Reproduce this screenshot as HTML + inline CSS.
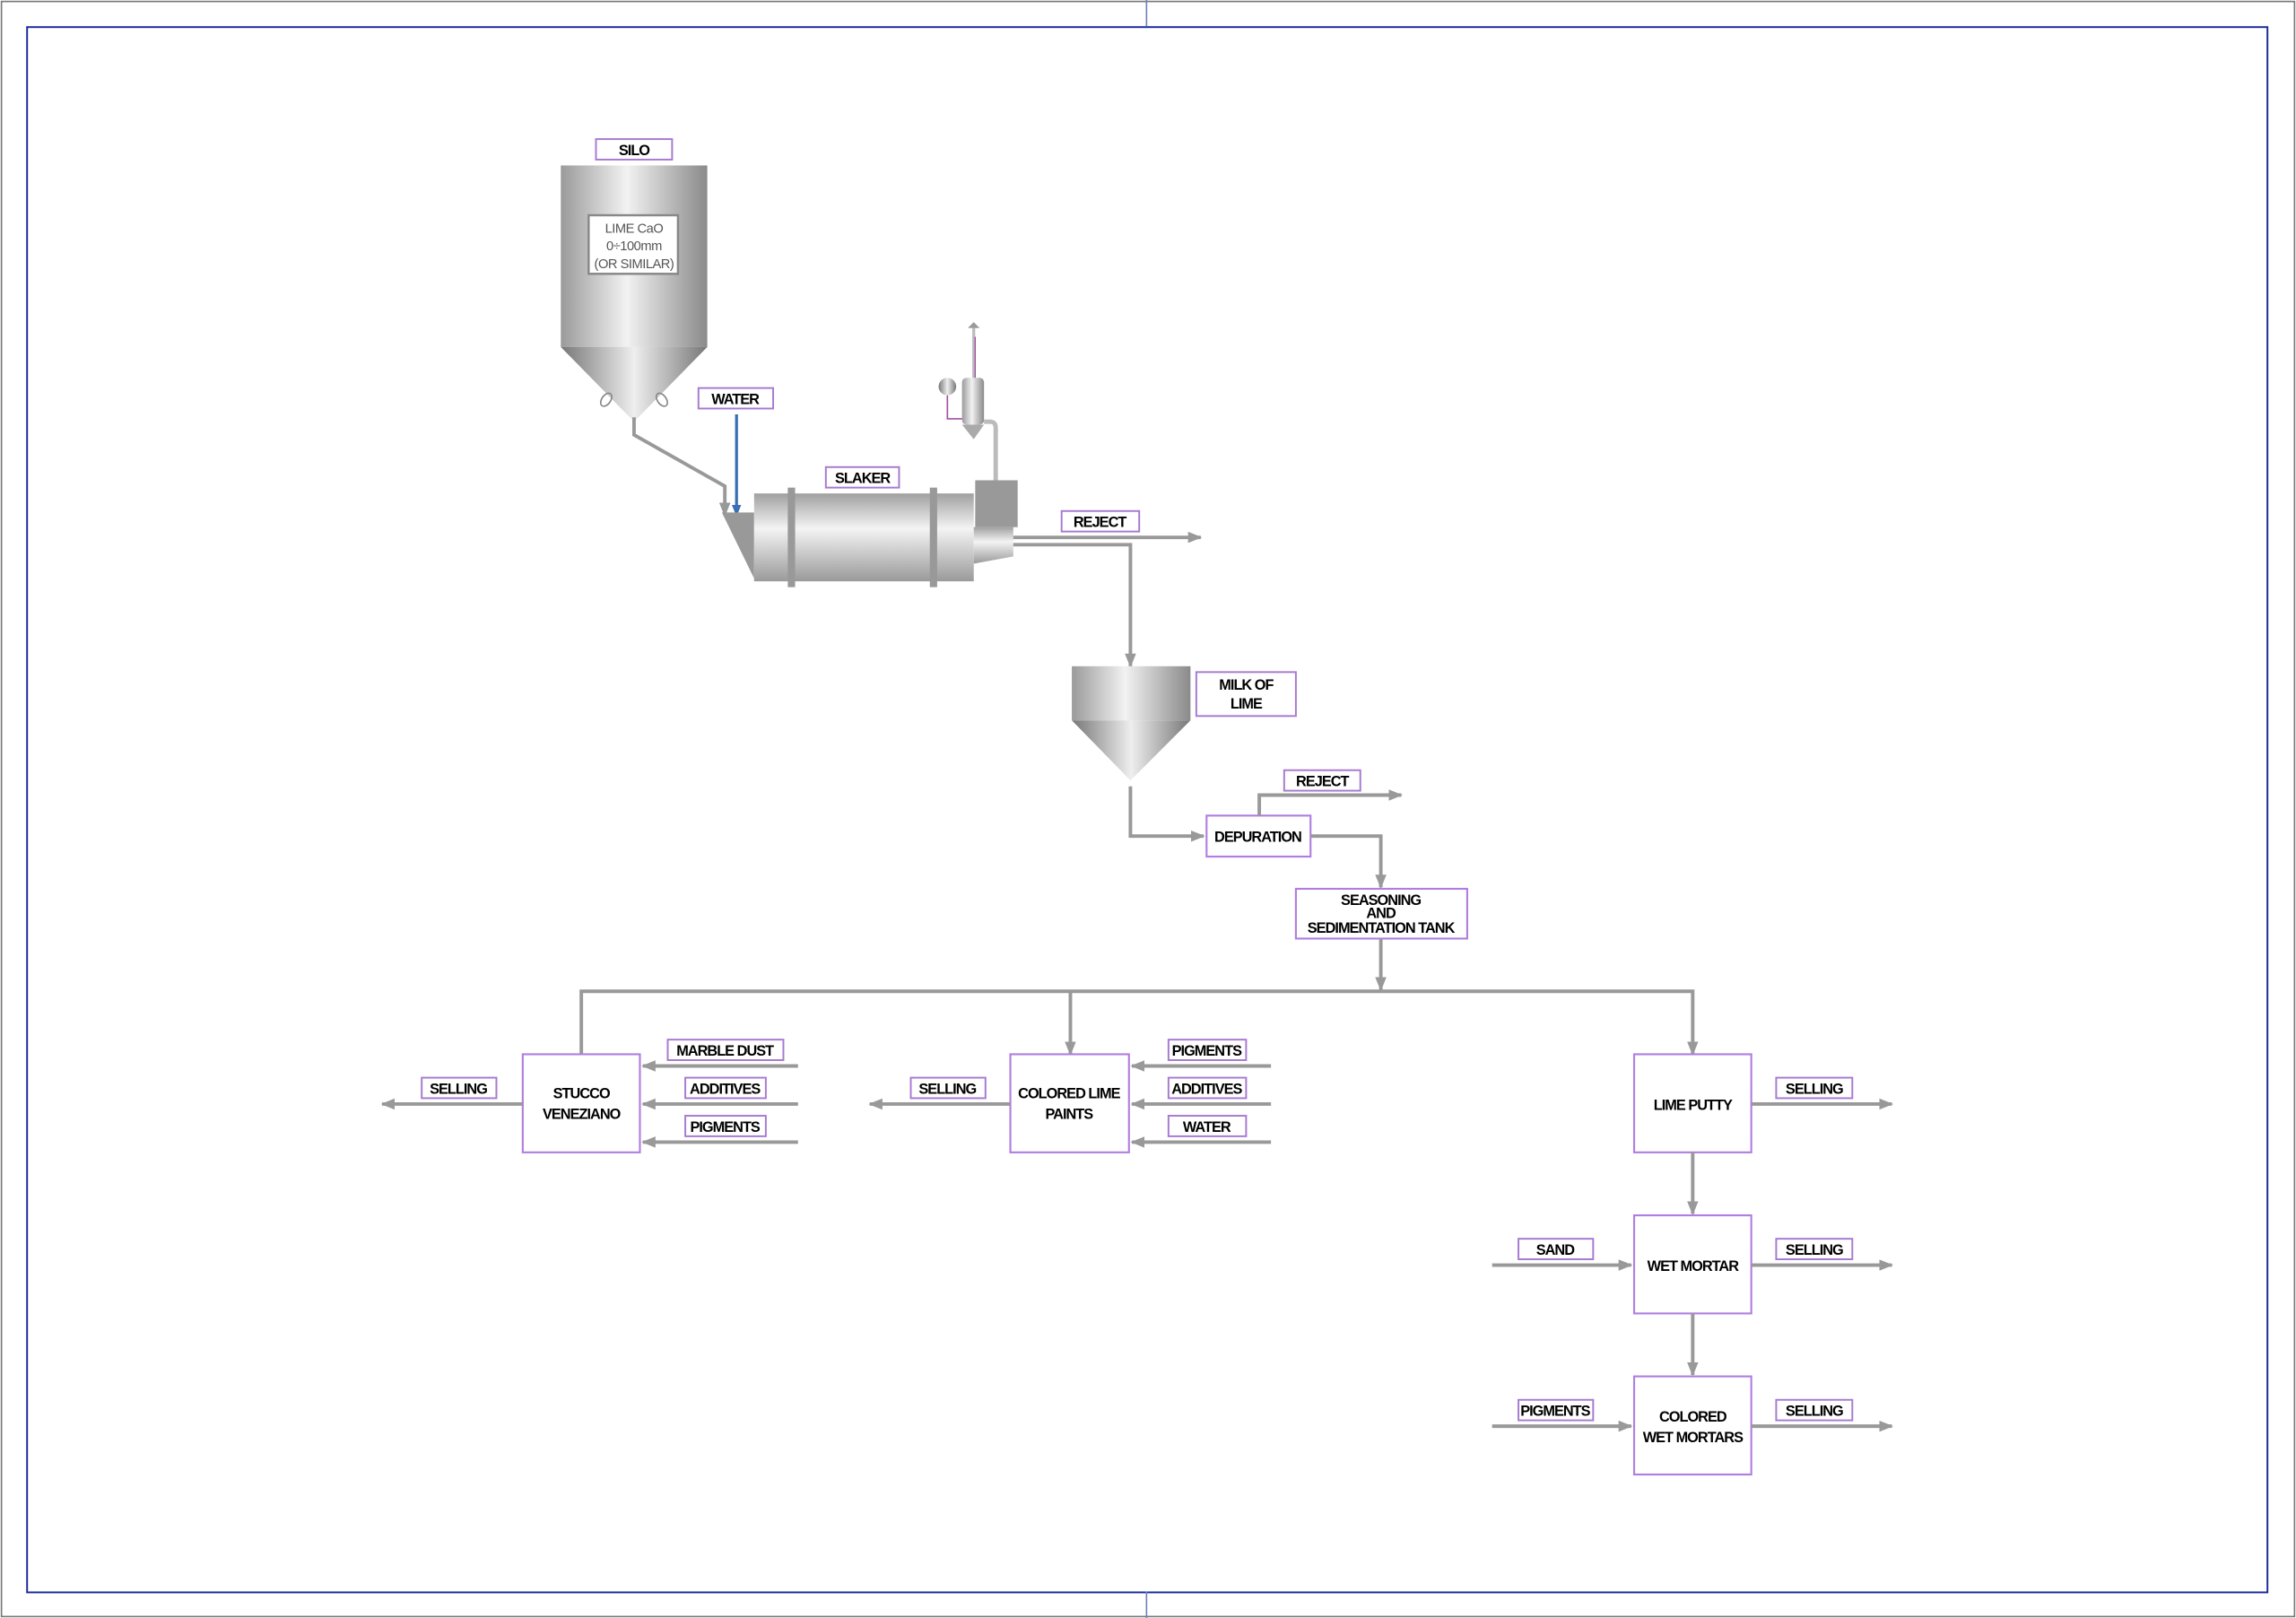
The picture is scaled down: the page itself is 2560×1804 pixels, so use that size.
<!DOCTYPE html>
<html><head><meta charset="utf-8"><style>
html,body{margin:0;padding:0;background:#fff}
svg{display:block}
text{font-family:"Liberation Sans",Arial,sans-serif;font-weight:bold;font-size:10px;letter-spacing:-0.6px;fill:#000;text-anchor:middle}
.l{fill:#fff;stroke:#a77ad0;stroke-width:1.2}
.b{fill:#fff;stroke:#b07ee0;stroke-width:1.3}
.p{fill:none;stroke:#999;stroke-width:2.4}
</style></head><body>
<svg width="2560" height="1804" viewBox="0 0 1568 1105" preserveAspectRatio="none" xmlns="http://www.w3.org/2000/svg">
<defs>
<marker id="a" viewBox="0 0 10 10" refX="9" refY="5" markerWidth="4" markerHeight="4" orient="auto"><path d="M0,1 L10,5 L0,9 Z" fill="#999"/></marker>
<marker id="ab" viewBox="0 0 10 10" refX="9" refY="5" markerWidth="4" markerHeight="4" orient="auto"><path d="M0,1 L10,5 L0,9 Z" fill="#3a6fb5"/></marker>
<linearGradient id="g" x1="0" x2="1"><stop offset="0" stop-color="#9a9a9a"/><stop offset="0.45" stop-color="#f2f2f2"/><stop offset="1" stop-color="#8a8a8a"/></linearGradient>
<linearGradient id="gv" x1="0" y1="0" x2="0" y2="1"><stop offset="0" stop-color="#a0a0a0"/><stop offset="0.4" stop-color="#f4f4f4"/><stop offset="1" stop-color="#9a9a9a"/></linearGradient>
<linearGradient id="gc" x1="0" x2="1"><stop offset="0" stop-color="#777"/><stop offset="0.5" stop-color="#eee"/><stop offset="1" stop-color="#777"/></linearGradient>
</defs>
<!-- frames -->
<rect x="1" y="1" width="1566" height="1103" fill="none" stroke="#777" stroke-width="1"/>
<rect x="18.5" y="18.5" width="1530" height="1069" fill="none" stroke="#1a2a9a" stroke-width="1.2"/>
<line x1="783" y1="0" x2="783" y2="18" stroke="#7080c0" stroke-width="1"/>
<line x1="783" y1="1087" x2="783" y2="1105" stroke="#7080c0" stroke-width="1"/>

<!-- silo -->
<rect class="l" x="407" y="95" width="52" height="14"/><text x="433" y="106">SILO</text>
<rect x="383" y="113" width="100" height="124" fill="url(#g)"/>
<path d="M383,237 L483,237 L433,288 Z" fill="url(#gc)"/>
<rect x="402" y="147" width="61" height="40" fill="#fff" stroke="#888" stroke-width="1.5"/>
<text x="433" y="159" style="font-weight:normal;font-size:9px;fill:#555;letter-spacing:-0.3px">LIME CaO</text>
<text x="433" y="171" style="font-weight:normal;font-size:9px;fill:#555;letter-spacing:-0.3px">0÷100mm</text>
<text x="433" y="183" style="font-weight:normal;font-size:9px;fill:#555;letter-spacing:-0.3px">(OR SIMILAR)</text>
<ellipse cx="414" cy="273" rx="3" ry="5" transform="rotate(35 414 273)" fill="none" stroke="#888"/>
<ellipse cx="452" cy="273" rx="3" ry="5" transform="rotate(-35 452 273)" fill="none" stroke="#888"/>
<path class="p" d="M433,285 L433,297 L495,332 L495,352" stroke-width="1.5" marker-end="url(#a)"/>
<rect class="l" x="477" y="265" width="51" height="14"/><text x="502" y="276">WATER</text>
<line x1="503" y1="283" x2="503" y2="352" stroke="#3a6fb5" stroke-width="2" marker-end="url(#ab)"/>

<!-- slaker -->
<path d="M493,350 L515,350 L515,395 Z" fill="#999"/>
<rect x="515" y="337" width="150" height="60" fill="url(#gv)"/>
<rect x="538" y="333" width="5" height="68" fill="#999"/>
<rect x="635" y="333" width="5" height="68" fill="#999"/>
<rect class="l" x="564" y="319" width="50" height="14"/><text x="589" y="330">SLAKER</text>
<path d="M665,360 L692,360 L692,380 L665,385 Z" fill="url(#gv)"/>
<rect x="666" y="328" width="29" height="32" fill="#999"/>
<path d="M680,328 L680,292 Q680,288 676,288 L672,288" fill="none" stroke="#bbb" stroke-width="3"/>
<rect x="657" y="258" width="15" height="32" rx="3" fill="url(#g)"/>
<path d="M657,290 L672,290 L665,300 Z" fill="#aaa"/>
<circle cx="647" cy="264" r="6" fill="url(#gc)"/>
<path d="M647,270 L647,286 L657,286" fill="none" stroke="#a050a0" stroke-width="1"/>
<line x1="665" y1="258" x2="665" y2="224" stroke="#bbb" stroke-width="2"/>
<line x1="666" y1="258" x2="666" y2="230" stroke="#a050a0" stroke-width="0.8"/>
<path d="M661,224 L665,220 L669,224 Z" fill="#999"/>
<rect class="l" x="725" y="349" width="53" height="14"/><text x="751" y="360">REJECT</text>
<line class="p" x1="692" y1="367" x2="820" y2="367" marker-end="url(#a)"/>
<path class="p" d="M692,372 L772,372 L772,455" marker-end="url(#a)"/>

<!-- milk of lime -->
<rect x="732" y="455" width="81" height="37" fill="url(#g)"/>
<path d="M732,492 L813,492 L772,533 Z" fill="url(#gc)"/>
<rect class="l" x="817" y="459" width="68" height="30"/><text x="851" y="471">MILK OF</text><text x="851" y="484">LIME</text>
<path class="p" d="M772,537 L772,571 L822,571" marker-end="url(#a)"/>
<rect class="b" x="824" y="557" width="71" height="28"/><text x="859" y="575">DEPURATION</text>
<path class="p" d="M860,557 L860,543 L957,543" marker-end="url(#a)"/>
<rect class="l" x="877" y="526" width="52" height="14"/><text x="903" y="537">REJECT</text>
<path class="p" d="M895,571 L943,571 L943,606" marker-end="url(#a)"/>
<rect class="b" x="885" y="607" width="117" height="34"/>
<text x="943" y="618">SEASONING</text><text x="943" y="627">AND</text><text x="943" y="637">SEDIMENTATION TANK</text>
<line class="p" x1="943" y1="641" x2="943" y2="676" marker-end="url(#a)"/>
<path class="p" d="M397,720 L397,677 L1156,677 L1156,720" marker-end="url(#a)"/>
<line class="p" x1="731" y1="677" x2="731" y2="720" marker-end="url(#a)"/>

<!-- stucco -->
<rect class="b" x="357" y="720" width="80" height="67"/><text x="397" y="750">STUCCO</text><text x="397" y="764">VENEZIANO</text>
<rect class="l" x="456" y="710" width="79" height="14"/><text x="495" y="721">MARBLE DUST</text>
<rect class="l" x="468" y="736" width="55" height="14"/><text x="495" y="747">ADDITIVES</text>
<rect class="l" x="468" y="762" width="55" height="14"/><text x="495" y="773">PIGMENTS</text>
<line class="p" x1="545" y1="728" x2="439" y2="728" marker-end="url(#a)"/>
<line class="p" x1="545" y1="754" x2="439" y2="754" marker-end="url(#a)"/>
<line class="p" x1="545" y1="780" x2="439" y2="780" marker-end="url(#a)"/>
<line class="p" x1="357" y1="754" x2="261" y2="754" marker-end="url(#a)"/>
<rect class="l" x="288" y="736" width="51" height="14"/><text x="313" y="747">SELLING</text>

<!-- paints -->
<rect class="b" x="690" y="720" width="81" height="67"/><text x="730" y="750">COLORED LIME</text><text x="730" y="764">PAINTS</text>
<rect class="l" x="798" y="710" width="53" height="14"/><text x="824" y="721">PIGMENTS</text>
<rect class="l" x="798" y="736" width="53" height="14"/><text x="824" y="747">ADDITIVES</text>
<rect class="l" x="798" y="762" width="53" height="14"/><text x="824" y="773">WATER</text>
<line class="p" x1="868" y1="728" x2="773" y2="728" marker-end="url(#a)"/>
<line class="p" x1="868" y1="754" x2="773" y2="754" marker-end="url(#a)"/>
<line class="p" x1="868" y1="780" x2="773" y2="780" marker-end="url(#a)"/>
<line class="p" x1="690" y1="754" x2="594" y2="754" marker-end="url(#a)"/>
<rect class="l" x="622" y="736" width="51" height="14"/><text x="647" y="747">SELLING</text>

<!-- lime putty column -->
<rect class="b" x="1116" y="720" width="80" height="67"/><text x="1156" y="758">LIME PUTTY</text>
<rect class="l" x="1213" y="736" width="52" height="14"/><text x="1239" y="747">SELLING</text>
<line class="p" x1="1196" y1="754" x2="1292" y2="754" marker-end="url(#a)"/>
<line class="p" x1="1156" y1="787" x2="1156" y2="829" marker-end="url(#a)"/>
<rect class="b" x="1116" y="830" width="80" height="67"/><text x="1156" y="868">WET MORTAR</text>
<rect class="l" x="1037" y="846" width="51" height="14"/><text x="1062" y="857">SAND</text>
<line class="p" x1="1019" y1="864" x2="1114" y2="864" marker-end="url(#a)"/>
<rect class="l" x="1213" y="846" width="52" height="14"/><text x="1239" y="857">SELLING</text>
<line class="p" x1="1196" y1="864" x2="1292" y2="864" marker-end="url(#a)"/>
<line class="p" x1="1156" y1="897" x2="1156" y2="939" marker-end="url(#a)"/>
<rect class="b" x="1116" y="940" width="80" height="67"/><text x="1156" y="971">COLORED</text><text x="1156" y="985">WET MORTARS</text>
<rect class="l" x="1037" y="956" width="51" height="14"/><text x="1062" y="967">PIGMENTS</text>
<line class="p" x1="1019" y1="974" x2="1114" y2="974" marker-end="url(#a)"/>
<rect class="l" x="1213" y="956" width="52" height="14"/><text x="1239" y="967">SELLING</text>
<line class="p" x1="1196" y1="974" x2="1292" y2="974" marker-end="url(#a)"/>
</svg>
</body></html>
